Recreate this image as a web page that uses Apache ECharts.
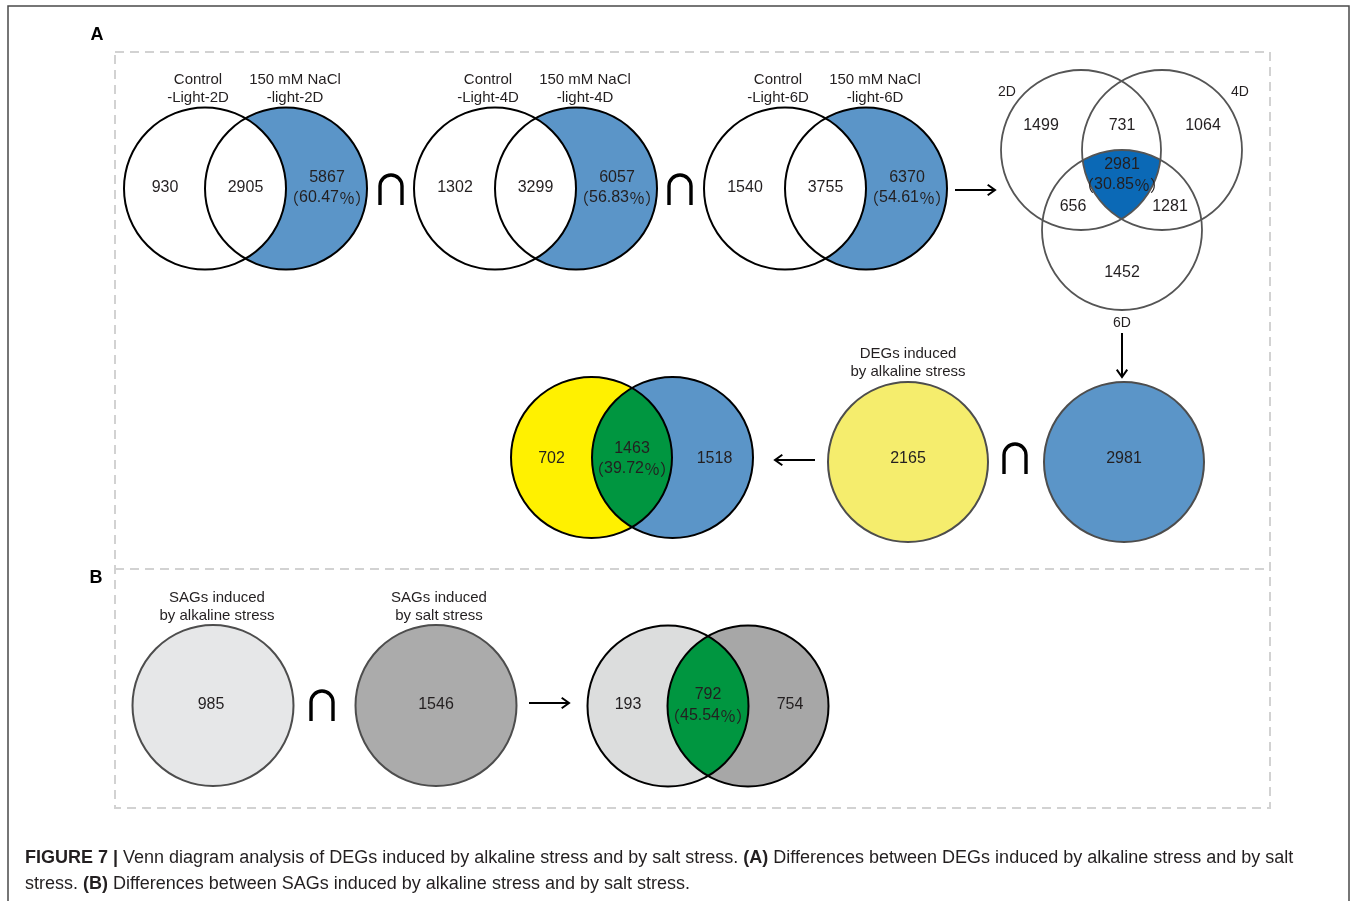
<!DOCTYPE html>
<html>
<head>
<meta charset="utf-8">
<script src="https://cdn.jsdelivr.net/npm/echarts@6/dist/echarts.min.js"></script>
<style>
  html, body { margin: 0; padding: 0; background: #fff; }
  #fig { width: 1357px; height: 901px; }
</style>
</head>
<body>
<div id="fig"></div>
<script>
// ---------- values ----------
// Panel A, pairwise comparisons per day (control vs 150 mM NaCl)
const controlLabels = [['Control', '-Light-2D'], ['Control', '-Light-4D'], ['Control', '-Light-6D']];
const saltLabels = [['150 mM NaCl', '-light-2D'], ['150 mM NaCl', '-light-4D'], ['150 mM NaCl', '-light-6D']];
const controlOnly = [930, 1302, 1540];
const sharedPair = [2905, 3299, 3755];
const saltOnly = [5867, 6057, 6370];
const saltOnlyPct = ['60.47', '56.83', '54.61'];

// Panel A, three-day intersection of salt-specific DEGs
const dayNames = ['2D', '4D', '6D'];
// regions: 2D only, 2D∩4D, 4D only, 2D∩6D, all three, 4D∩6D, 6D only
const tripleRegions = [1499, 731, 1064, 656, 2981, 1281, 1452];
const triplePct = '30.85';

// Panel A, alkaline vs salt DEGs
const degLabel = ['DEGs induced', 'by alkaline stress'];
const degTotals = [2165, 2981];
const degRegions = [702, 1463, 1518];
const degPct = '39.72';

// Panel B, SAGs
const sagLabels = [['SAGs induced', 'by alkaline stress'], ['SAGs induced', 'by salt stress']];
const sagTotals = [985, 1546];
const sagRegions = [193, 792, 754];
const sagPct = '45.54';

const captionLines = [
  '{b|FIGURE 7 |} Venn diagram analysis of DEGs induced by alkaline stress and by salt stress. {b|(A)} Differences between DEGs induced by alkaline stress and by salt',
  'stress. {b|(B)} Differences between SAGs induced by alkaline stress and by salt stress.'
];

// ---------- drawing helpers ----------
const INK = '#231f20';
const FONT_FAMILY = '"Liberation Sans", Arial, sans-serif';
const CJK_FAMILY = '"Noto Sans CJK SC", sans-serif';
const BLUE = '#5b95c8';
const els = [];

function text(x, y, str, size, opts) {
  opts = opts || {};
  els.push({
    type: 'text', silent: true,
    style: {
      text: str, x: x, y: y + 1.5, fill: opts.fill || INK,
      fontSize: size, fontFamily: FONT_FAMILY, fontWeight: opts.weight || 'normal',
      align: opts.align || 'center', verticalAlign: 'middle',
      rich: opts.rich
    }
  });
}
function circle(cx, cy, r, fill, stroke, lw) {
  els.push({
    type: 'circle', silent: true,
    shape: { cx: cx, cy: cy, r: r },
    style: { fill: fill || 'none', stroke: stroke || 'none', lineWidth: lw || 0 }
  });
}
function path(d, style) {
  els.push({ type: 'path', silent: true, shape: { pathData: d }, style: style });
}
// lens between two equal circles sharing a horizontal centre line
function lens(cx1, cx2, cy, r, fill) {
  const d = cx2 - cx1, h = Math.sqrt(r * r - (d / 2) * (d / 2)), mx = (cx1 + cx2) / 2;
  path(`M${mx} ${cy - h} A${r} ${r} 0 0 1 ${mx} ${cy + h} A${r} ${r} 0 0 1 ${mx} ${cy - h} Z`,
    { fill: fill, stroke: 'none' });
}
function intersect(a, b, c) {
  // intersection point of circles a and b lying inside circle c
  const dx = b[0] - a[0], dy = b[1] - a[1], d = Math.hypot(dx, dy);
  const l = d / 2, h = Math.sqrt(a[2] * a[2] - l * l);
  const mx = a[0] + dx * l / d, my = a[1] + dy * l / d;
  const p1 = [mx - dy * h / d, my + dx * h / d], p2 = [mx + dy * h / d, my - dx * h / d];
  const inC = p => Math.hypot(p[0] - c[0], p[1] - c[1]) < c[2];
  return inC(p1) ? p1 : p2;
}
function cap(cx, cy) {
  path(`M${cx - 11} ${cy + 15} L${cx - 11} ${cy - 4} A11 11 0 0 1 ${cx + 11} ${cy - 4} L${cx + 11} ${cy + 15}`,
    { fill: 'none', stroke: '#000', lineWidth: 3.4 });
}
function arrow(x1, y1, x2, y2) {
  const a = Math.atan2(y2 - y1, x2 - x1), L = 9, W = 0.62;
  const hx1 = x2 - L * Math.cos(a - W), hy1 = y2 - L * Math.sin(a - W);
  const hx2 = x2 - L * Math.cos(a + W), hy2 = y2 - L * Math.sin(a + W);
  path(`M${x1} ${y1} L${x2} ${y2} M${hx1} ${hy1} L${x2} ${y2} L${hx2} ${hy2}`,
    { fill: 'none', stroke: '#000', lineWidth: 2 });
}
const pctRich = { p: { fontSize: 16, fontFamily: CJK_FAMILY, fill: INK } };
function pctText(x, y, p) {
  text(x, y, '{p|（}' + p + '{p|％）}', 16, { rich: pctRich });
}

// ---------- frame and panel boxes ----------
els.push({ type: 'rect', silent: true, shape: { x: 8, y: 6, width: 1341, height: 900 },
  style: { fill: 'none', stroke: '#4a4a4a', lineWidth: 1.5 } });
els.push({ type: 'rect', silent: true, shape: { x: 115, y: 52, width: 1155, height: 756 },
  style: { fill: 'none', stroke: '#d2d2d2', lineWidth: 2, lineDash: [9, 6] } });
els.push({ type: 'line', silent: true, shape: { x1: 115, y1: 569, x2: 1270, y2: 569 },
  style: { stroke: '#d2d2d2', lineWidth: 2, lineDash: [9, 6] } });
text(97, 34, 'A', 18, { weight: 'bold', fill: '#000' });
text(96, 577, 'B', 18, { weight: 'bold', fill: '#000' });

// ---------- panel A: pairwise Venns ----------
const R = 81, pairY = 188.5;
const pairLeftX = [205, 495, 785];
pairLeftX.forEach((lx, i) => {
  const rx = lx + R;
  circle(rx, pairY, R, BLUE);
  circle(lx, pairY, R, '#fff');
  circle(rx, pairY, R, null, '#000', 2);
  circle(lx, pairY, R, null, '#000', 2);
  text(lx - 7, 78, controlLabels[i][0], 15);
  text(lx - 7, 96, controlLabels[i][1], 15);
  text(rx + 9, 78, saltLabels[i][0], 15);
  text(rx + 9, 96, saltLabels[i][1], 15);
  text(lx - 40, 186, String(controlOnly[i]), 16);
  text((lx + rx) / 2, 186, String(sharedPair[i]), 16);
  text(rx + 41, 176, String(saltOnly[i]), 16);
  pctText(rx + 41, 196, saltOnlyPct[i]);
});
cap(391, 190);
cap(680, 190);
arrow(955, 190, 995, 190);

// ---------- panel A: three-day Venn ----------
const C2 = [1081, 150, 80], C4 = [1162, 150, 80], C6 = [1122, 230, 80];
const vBottom = intersect(C2, C4, C6);   // on 2D and 4D
const vLeft = intersect(C4, C6, C2);     // on 4D and 6D
const vRight = intersect(C2, C6, C4);    // on 2D and 6D
path(`M${vLeft[0]} ${vLeft[1]} A80 80 0 0 1 ${vRight[0]} ${vRight[1]} A80 80 0 0 1 ${vBottom[0]} ${vBottom[1]} A80 80 0 0 1 ${vLeft[0]} ${vLeft[1]} Z`,
  { fill: '#0b69b6', stroke: 'none' });
[C2, C4, C6].forEach(c => circle(c[0], c[1], c[2], null, '#555', 1.8));
text(1007, 91, dayNames[0], 14);
text(1240, 91, dayNames[1], 14);
text(1122, 322, dayNames[2], 14);
const triplePos = [[1041, 124], [1122, 124], [1203, 124], [1073, 205], [1122, 163], [1170, 205], [1122, 271]];
tripleRegions.forEach((v, i) => text(triplePos[i][0], triplePos[i][1], String(v), 16));
pctText(1122, 183, triplePct);
arrow(1122, 333, 1122, 377);

// ---------- panel A: alkaline vs salt DEGs ----------
circle(1124, 462, 80, BLUE, '#4d4d4d', 2);
text(1124, 457, String(degTotals[1]), 16);
cap(1015, 459);
circle(908, 462, 80, '#f5ed6d', '#4d4d4d', 2);
text(908, 457, String(degTotals[0]), 16);
text(908, 352, degLabel[0], 15);
text(908, 370, degLabel[1], 15);
arrow(815, 460, 775, 460);

const dY = 457.5, dL = 591.5, dR = 672.5;
circle(dL, dY, 80.5, '#fff100');
circle(dR, dY, 80.5, BLUE);
lens(dL, dR, dY, 80.5, '#009640');
circle(dL, dY, 80.5, null, '#000', 2);
circle(dR, dY, 80.5, null, '#000', 2);
text(dL - 40, 457, String(degRegions[0]), 16);
text((dL + dR) / 2, 447, String(degRegions[1]), 16);
pctText((dL + dR) / 2, 467, degPct);
text(dR + 42, 457, String(degRegions[2]), 16);

// ---------- panel B: SAGs ----------
circle(213, 705.5, 80.5, '#e6e7e8', '#4d4d4d', 2);
text(211, 703, String(sagTotals[0]), 16);
text(217, 596, sagLabels[0][0], 15);
text(217, 614, sagLabels[0][1], 15);
cap(322, 706);
circle(436, 705.5, 80.5, '#ababab', '#4d4d4d', 2);
text(436, 703, String(sagTotals[1]), 16);
text(439, 596, sagLabels[1][0], 15);
text(439, 614, sagLabels[1][1], 15);
arrow(529, 703, 569, 703);

const sY = 706, sL = 668, sR = 748;
circle(sL, sY, 80.5, '#dcdddd');
circle(sR, sY, 80.5, '#a7a7a7');
lens(sL, sR, sY, 80.5, '#009640');
circle(sL, sY, 80.5, null, '#000', 2);
circle(sR, sY, 80.5, null, '#000', 2);
text(sL - 40, 703, String(sagRegions[0]), 16);
text((sL + sR) / 2, 693, String(sagRegions[1]), 16);
pctText((sL + sR) / 2, 714, sagPct);
text(sR + 42, 703, String(sagRegions[2]), 16);

// ---------- caption ----------
const capRich = { b: { fontSize: 18, fontFamily: FONT_FAMILY, fontWeight: 'bold', fill: INK } };
text(25, 857, captionLines[0], 18, { align: 'left', rich: capRich });
text(25, 883, captionLines[1], 18, { align: 'left', rich: capRich });

// the whole figure is rendered by one custom series item
const chart = echarts.init(document.getElementById('fig'), null, { renderer: 'canvas' });
chart.setOption({
  backgroundColor: '#fff',
  animation: false,
  series: [{
    type: 'custom',
    coordinateSystem: 'none',
    silent: true,
    data: [0],
    renderItem: function () {
      return { type: 'group', children: els };
    }
  }]
});
</script>
</body>
</html>
